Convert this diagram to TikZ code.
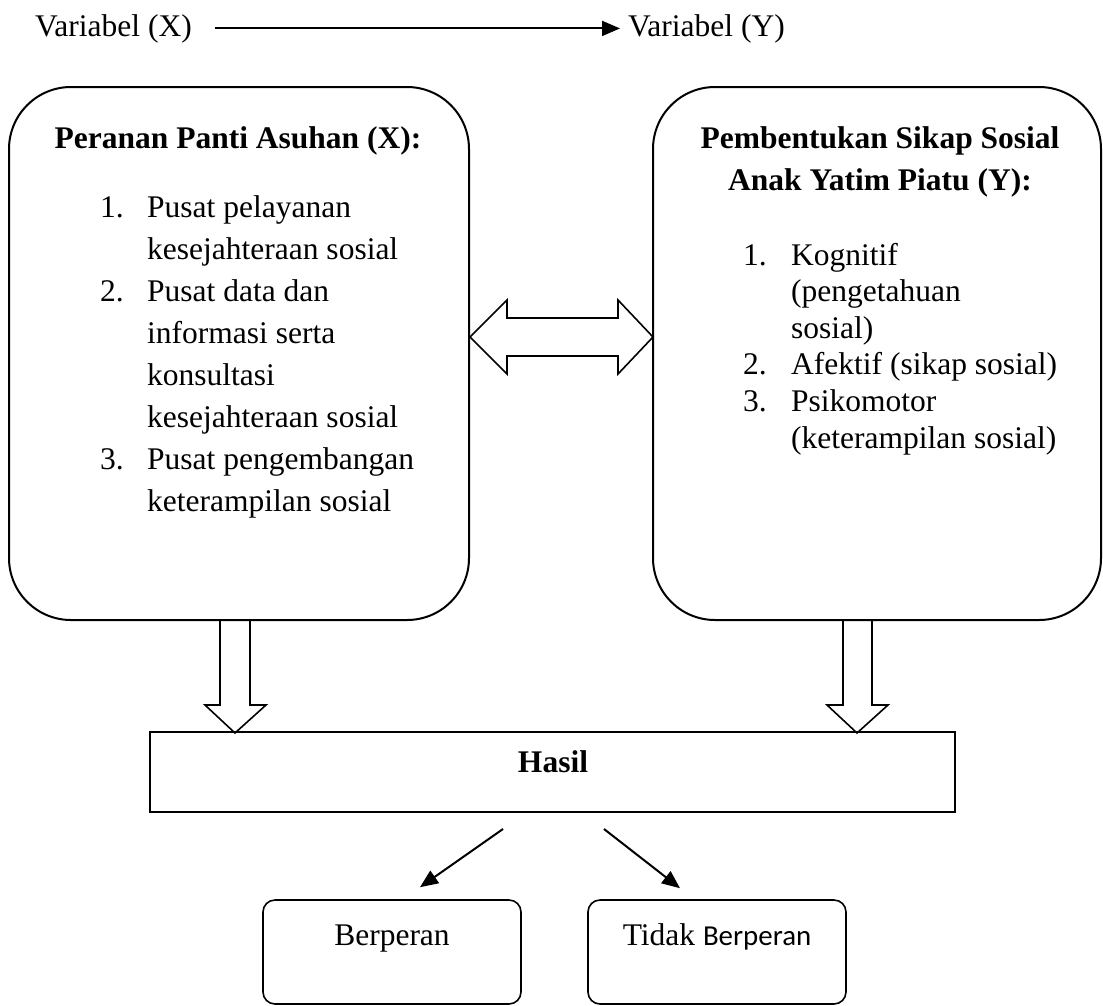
\documentclass[tikz,border=0pt]{standalone}
\usepackage{fontspec}
\setmainfont{Liberation Serif}
\newfontfamily\calibrifont{Carlito}
\usetikzlibrary{arrows.meta,calc}

\tikzset{
  roundbox/.style={draw, line width=2pt, rounded corners=62pt, inner sep=0pt},
  smallbox/.style={draw, line width=1.6pt, rounded corners=12pt, inner sep=0pt, minimum width=258pt, minimum height=104pt},
  flatbox/.style={draw, line width=2pt, inner sep=0pt},
  hollow/.style={draw, line width=1.6pt, line join=miter},
  pointer/.style={line width=2pt, -{Triangle[length=18pt,width=15pt]}},
  txt/.style={inner sep=0pt, font=\fontsize{31.5}{42}\selectfont},
  judul/.style={inner sep=0pt, font=\fontsize{31.5}{42}\selectfont\bfseries},
}

\begin{document}
\begin{tikzpicture}[x=1pt,y=1pt,yscale=-1]
\useasboundingbox (0,0) rectangle (1103,1005);

% variabel X -> Y
\node[txt, anchor=base west] (varx) at (35,36) {Variabel (X)};
\node[txt, anchor=base west] (vary) at (628,36) {Variabel (Y)};
\draw[pointer, shorten <=23pt, shorten >=8pt] (varx.east) -- (vary.west);

% kotak besar
\node[roundbox, minimum width=460pt, minimum height=533pt] (panti) at (239,353.5) {};
\node[roundbox, minimum width=448pt, minimum height=533pt] (sikap) at (877,353.5) {};

% isi kotak X
\node[judul, anchor=base] (judulx) at (238,148) {Peranan Panti Asuhan (X):};
\node[txt, anchor=base west] (listx) at (100,217) {\begin{tabular}[t]{@{}p{47pt}@{}l@{}}
  1. & Pusat pelayanan\\
     & kesejahteraan sosial\\
  2. & Pusat data dan\\
     & informasi serta\\
     & konsultasi\\
     & kesejahteraan sosial\\
  3. & Pusat pengembangan\\
     & keterampilan sosial
\end{tabular}};

% isi kotak Y
\node[judul, anchor=base] (juduly) at (880,148) {\begin{tabular}[t]{@{}c@{}}
  Pembentukan Sikap Sosial\\
  Anak Yatim Piatu (Y):
\end{tabular}};
\node[inner sep=0pt, font=\fontsize{31.5}{36.6}\selectfont, anchor=base west] (listy) at (743,265) {\begin{tabular}[t]{@{}p{48pt}@{}l@{}}
  1. & Kognitif\\
     & (pengetahuan\\
     & sosial)\\
  2. & Afektif (sikap sosial)\\
  3. & Psikomotor\\
     & (keterampilan sosial)
\end{tabular}};

% panah dua arah
\path (panti.east) ++(0,-16.5) coordinate (ujungkiri);
\draw[hollow] (ujungkiri) -- ++(37,-37) -- ++(0,18) -- ++(111,0) -- ++(0,-18) -- ++(35,37)
  -- ++(-35,37) -- ++(0,-18) -- ++(-111,0) -- ++(0,18) -- cycle;

% hasil
\node[flatbox, minimum width=805pt, minimum height=80pt] (hasil) at (552,772) {};
\node[judul] (hasilteks) at (553,762) {Hasil};

% panah ke bawah
\path (panti.south) ++(-4,0) coordinate (kiri);
\draw[hollow] (kiri) ++(-15,0) -- ++(0,84) -- ++(-15,0) -- ++(30,28) -- ++(31,-28) -- ++(-16,0) -- ++(0,-84);
\path (sikap.south) ++(-20,0) coordinate (kanan);
\draw[hollow] (kanan) ++(-14,0) -- ++(0,84) -- ++(-16,0) -- ++(30,28) -- ++(31,-28) -- ++(-16,0) -- ++(0,-84);

% kotak bawah
\node[smallbox] (berperan) at (392,952) {};
\node[txt, anchor=base] (teksa) at (392,945) {Berperan};
\node[smallbox] (tidak) at (717,952) {};
\node[txt, anchor=base] (teksb) at (717,945) {Tidak {\calibrifont\fontsize{28.9}{34}\selectfont Berperan}};

\path (hasil.south) ++(-49,16) coordinate (pangkala);
\path (hasil.south) ++(52,16) coordinate (pangkalb);
\draw[pointer] (pangkala) -- ($(berperan.north)+(28,-12)$);
\draw[pointer] (pangkalb) -- ($(tidak.north)+(-37,-11)$);

\end{tikzpicture}
\end{document}
